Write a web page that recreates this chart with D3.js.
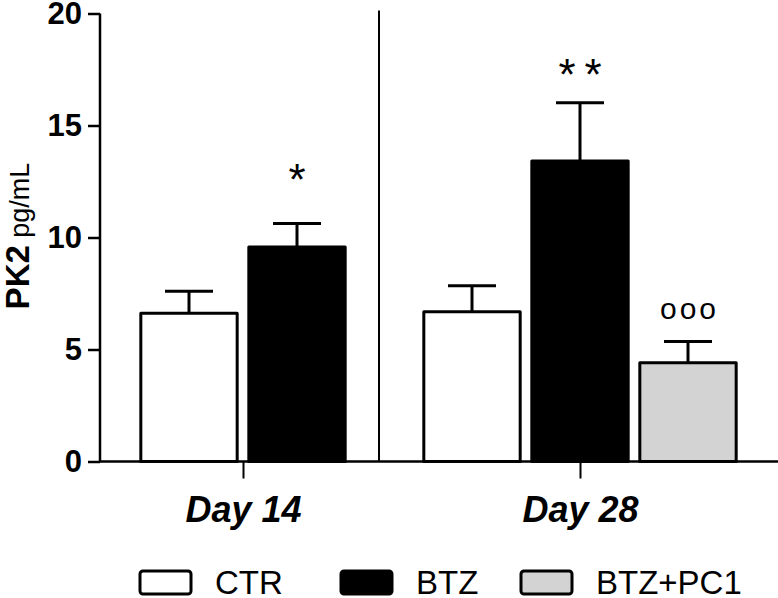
<!DOCTYPE html>
<html>
<head>
<meta charset="utf-8">
<script src="https://cdn.jsdelivr.net/npm/d3@7"></script>
<style>
  html, body { margin: 0; padding: 0; background: #fff; }
  svg { display: block; font-family: "Liberation Sans", Arial, Helvetica, sans-serif; }
</style>
</head>
<body>
<svg id="chart" width="778" height="598"></svg>
<script>
// ---- data ----
const days = ["Day 14", "Day 28"];
const groups = ["CTR", "BTZ", "BTZ+PC1"];
const groupColors = ["#ffffff", "#000000", "#d3d3d3"];
const day14Series = ["CTR", "BTZ"];
const day14Means = [6.62, 9.58];
const day14Errors = [0.98, 1.05];
const day28Series = ["CTR", "BTZ", "BTZ+PC1"];
const day28Means = [6.68, 13.42, 4.41];
const day28Errors = [1.17, 2.6, 0.95];
const yTicks = [0, 5, 10, 15, 20];
// significance marks: [day, series, label, y-value of the text baseline]
const marks = [
  ["Day 14", "BTZ", "*", 11.9],
  ["Day 28", "BTZ", "**", 16.6],
  ["Day 28", "BTZ+PC1", "ooo", 6.34]
];

const rows = [];
day14Series.forEach((s, i) => rows.push({day: "Day 14", series: s, mean: day14Means[i], err: day14Errors[i]}));
day28Series.forEach((s, i) => rows.push({day: "Day 28", series: s, mean: day28Means[i], err: day28Errors[i]}));

const svg = d3.select("#chart");

const y = d3.scaleLinear().domain([0, 20]).range([461.5, 13.5]);
const xDay = d3.scalePoint().domain(days).range([243, 580]);
const step = 108;
const inner = {};
inner["Day 14"] = d3.scaleBand().domain(day14Series).range([-step * day14Series.length / 2, step * day14Series.length / 2]).paddingInner(0.08).paddingOuter(0.04);
inner["Day 28"] = d3.scaleBand().domain(day28Series).range([-step * day28Series.length / 2, step * day28Series.length / 2]).paddingInner(0.08).paddingOuter(0.04);
const color = d3.scaleOrdinal().domain(groups).range(groupColors);

const barX = d => xDay(d.day) + inner[d.day](d.series);
const barW = d => inner[d.day].bandwidth();
const barC = d => barX(d) + barW(d) / 2;

// separator line between days
const sepX = (xDay("Day 14") + inner["Day 14"].range()[1] + xDay("Day 28") + inner["Day 28"].range()[0]) / 2 - 5.5;
svg.append("line")
  .attr("x1", sepX).attr("x2", sepX)
  .attr("y1", y(20) - 3).attr("y2", y(0))
  .attr("stroke", "#000").attr("stroke-width", 2);

// bars
svg.append("g").selectAll("rect").data(rows).join("rect")
  .attr("x", d => barX(d) + 1.5)
  .attr("width", d => barW(d) - 3)
  .attr("y", d => y(d.mean))
  .attr("height", d => y(0) - y(d.mean))
  .attr("fill", d => color(d.series))
  .attr("stroke", "#000").attr("stroke-width", 3)
  .attr("stroke-linejoin", "round");

// error bars
const eb = svg.append("g").attr("stroke", "#000").attr("stroke-width", 3);
eb.selectAll("line.v").data(rows).join("line").attr("class", "v")
  .attr("x1", barC).attr("x2", barC)
  .attr("y1", d => y(d.mean)).attr("y2", d => y(d.mean + d.err));
eb.selectAll("line.h").data(rows).join("line").attr("class", "h")
  .attr("x1", d => barC(d) - 24).attr("x2", d => barC(d) + 24)
  .attr("y1", d => y(d.mean + d.err)).attr("y2", d => y(d.mean + d.err));

// marks
const ls = m => m[2] === "**" ? 9 : (m[2] === "ooo" ? 3 : 0);
svg.append("g").selectAll("text").data(marks).join("text")
  .attr("x", m => xDay(m[0]) + inner[m[0]](m[1]) + inner[m[0]].bandwidth() / 2 + ls(m) / 2)
  .attr("y", m => y(m[3]))
  .attr("text-anchor", "middle")
  .attr("font-size", m => m[2] === "ooo" ? 30 : 44)
  .attr("letter-spacing", ls)
  .attr("fill", "#000")
  .text(m => m[2]);

// y axis
const yAxis = svg.append("g").attr("transform", "translate(100,0)")
  .call(d3.axisLeft(y).tickValues(yTicks).tickSize(12).tickPadding(6));
yAxis.select(".domain").attr("stroke-width", 2.5).attr("d", `M0,${y(20)}V${y(0)}`);
yAxis.selectAll(".tick line").attr("stroke-width", 2.5);
yAxis.selectAll(".tick text").attr("font-size", 31).attr("font-weight", "bold")
  .attr("font-family", "Liberation Sans, Arial, sans-serif").attr("fill", "#000");

// x axis
const xAxis = svg.append("g").attr("transform", `translate(0,${y(0)})`)
  .call(d3.axisBottom(xDay).tickSize(17).tickPadding(18));
xAxis.select(".domain").attr("stroke-width", 2.5).attr("d", `M100,0H778`);
xAxis.selectAll(".tick line").attr("stroke-width", 2);
xAxis.selectAll(".tick text").attr("font-size", 36).attr("font-weight", "bold")
  .attr("font-style", "italic").attr("font-family", "Liberation Sans, Arial, sans-serif")
  .attr("fill", "#000");

// y label
const yl = svg.append("text")
  .attr("transform", "translate(29,236) rotate(-90)")
  .attr("text-anchor", "middle").attr("fill", "#000");
yl.append("tspan").attr("font-weight", "bold").attr("font-size", 33).text("PK2");
yl.append("tspan").attr("font-size", 27).text(" pg/mL");

// legend
const legendX = [140, 341, 521];
const lg = svg.append("g").selectAll("g").data(groups).join("g")
  .attr("transform", (d, i) => `translate(${legendX[i]},571)`);
lg.append("rect").attr("width", 51).attr("height", 23).attr("rx", 3)
  .attr("fill", d => color(d)).attr("stroke", "#000").attr("stroke-width", 3);
lg.append("text").attr("x", 75).attr("y", 23).attr("font-size", 33).attr("fill", "#000").text(d => d);
</script>
</body>
</html>
